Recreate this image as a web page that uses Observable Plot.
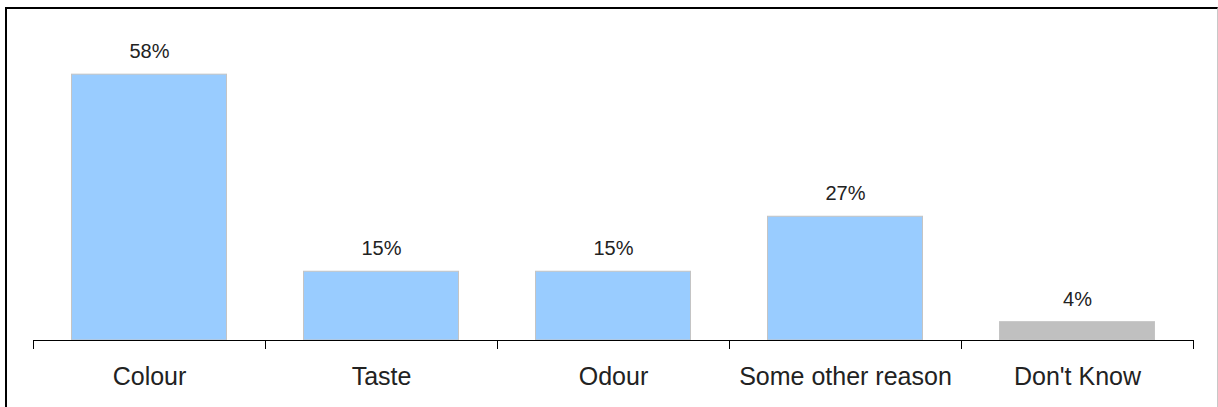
<!DOCTYPE html>
<html>
<head>
<meta charset="utf-8">
<script src="https://cdn.jsdelivr.net/npm/d3@7"></script>
<script src="https://cdn.jsdelivr.net/npm/@observablehq/plot@0.6"></script>
<style>
  html, body { margin: 0; padding: 0; background: #fff; overflow: hidden; width: 1218px; height: 407px; }
  #frame { position: absolute; left: 5px; top: 7px; width: 1213px; height: 410px; box-sizing: border-box;
           border-left: 2px solid #000; border-top: 2px solid #000; border-right: 1px solid #c8c8c8; }
  #chart { position: absolute; left: 0; top: 0; }
</style>
</head>
<body>
<div id="frame"></div>
<div id="chart"></div>
<script>
const categories = ["Colour", "Taste", "Odour", "Some other reason", "Don't Know"];
const values = [58, 15, 15, 27, 4];
const groups = ["reason", "reason", "reason", "reason", "unsure"];

const data = categories.map((c, i) => ({
  category: c, value: values[i], group: groups[i],
  start: i, end: i + 1, mid: i + 0.5
}));

const chart = Plot.plot({
  width: 1218,
  height: 407,
  marginLeft: 33,
  marginRight: 25,
  marginTop: 65,
  marginBottom: 67,
  x: { type: "linear", domain: [0, categories.length], axis: null },
  y: { domain: [0, 60], axis: null },
  color: { domain: ["reason", "unsure"], range: ["#99ccff", "#c0c0c0"] },
  style: { fontFamily: "'Liberation Sans', Arial, sans-serif", background: "transparent", color: "#000", overflow: "visible" },
  marks: [
    Plot.rectY(data, { x1: "start", x2: "end", y: "value", fill: "group", stroke: "#c4c4c4", strokeWidth: 1, insetLeft: 38.5, insetRight: 38.5 }),
    Plot.ruleY([0], { stroke: "#000", strokeWidth: 1 }),
    Plot.axisX({ ticks: d3.range(categories.length + 1), tickSize: 9, tickFormat: () => "", label: null, stroke: "#000" }),
    Plot.text(data, { x: "mid", y: 0, text: "category", dy: 36, fontSize: 25, fill: "#222" }),
    Plot.text(data, { x: "mid", y: "value", text: d => d.value + "%", dy: -23, fontSize: 20, fill: "#222" })
  ]
});
document.getElementById("chart").appendChild(chart);
</script>
</body>
</html>
